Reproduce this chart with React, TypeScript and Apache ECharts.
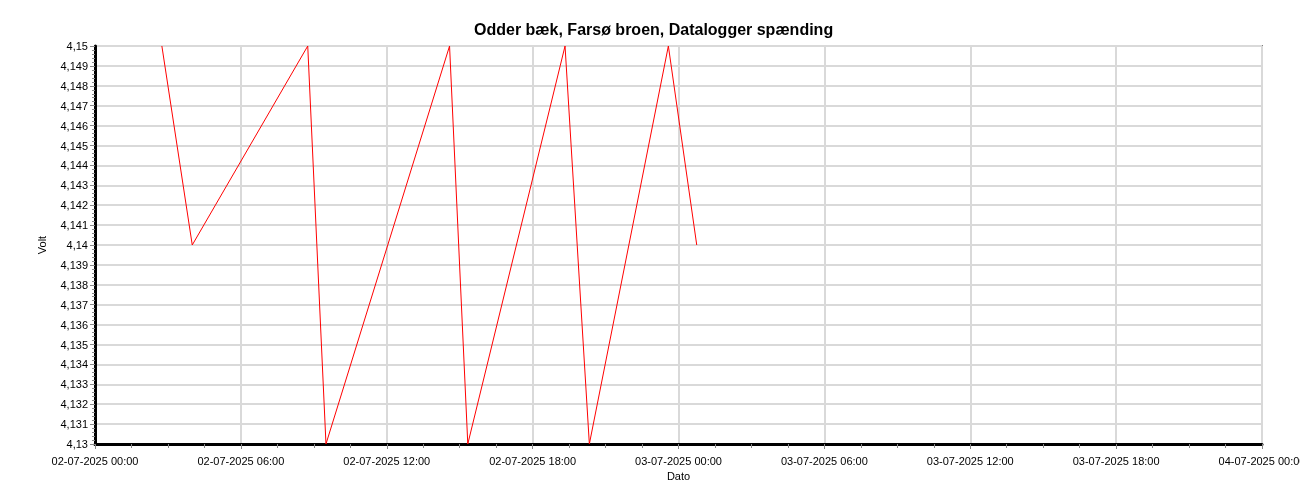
import React, { useEffect, useRef } from "react";
import * as echarts from "echarts";

const titleText = "Odder bæk, Farsø broen, Datalogger spænding";
const yAxisName = "Volt";
const xAxisName = "Dato";

// timestamps (dd-mm-yyyy HH:mm) and voltage readings
const times = [
  "02-07-2025 02:45",
  "02-07-2025 04:00",
  "02-07-2025 08:45",
  "02-07-2025 09:30",
  "02-07-2025 14:35",
  "02-07-2025 15:20",
  "02-07-2025 19:20",
  "02-07-2025 20:20",
  "02-07-2025 23:35",
  "03-07-2025 00:45",
];
const volts = [4.15, 4.14, 4.15, 4.13, 4.15, 4.13, 4.15, 4.13, 4.15, 4.14];

const startDay = 2;

function toHours(s: string): number {
  const [d, t] = s.split(" ");
  const day = parseInt(d.split("-")[0], 10);
  const [hh, mm] = t.split(":").map((v) => parseInt(v, 10));
  return (day - startDay) * 24 + hh + mm / 60;
}

function pad(n: number) {
  return n < 10 ? "0" + n : "" + n;
}

function fmtX(v: number): string {
  const day = startDay + Math.floor(v / 24 + 1e-9);
  const h = Math.round(v - (day - startDay) * 24);
  return pad(day) + "-07-2025 " + pad(h) + ":00";
}

function fmtY(v: number): string {
  let s = v.toFixed(3);
  s = s.replace(/0+$/, "").replace(/\.$/, "");
  return s.replace(".", ",");
}

export default function App() {
  const ref = useRef<HTMLDivElement>(null);
  useEffect(() => {
    if (!ref.current) return;
    const chart = echarts.init(ref.current, undefined, { renderer: "svg" });
    const data = times.map((t, i) => [toHours(t), volts[i]]);
    const font = "Liberation Sans, Arial, sans-serif";
    chart.setOption({
      animation: false,
      textStyle: { fontFamily: font },
      title: {
        text: titleText,
        left: 469,
        top: 16,
        textStyle: { fontSize: 16, fontWeight: "bold", color: "#000", fontFamily: font },
      },
      grid: {
        left: 95,
        right: 38,
        top: 46,
        bottom: 56,
        outerBoundsMode: "none",
        containLabel: false,
        show: true,
        borderColor: "#808080",
        borderWidth: 2,
        backgroundColor: "#fff",
      },
      xAxis: {
        type: "value",
        min: 0,
        max: 48,
        interval: 6,
        name: xAxisName,
        nameLocation: "middle",
        nameGap: 23,
        nameTextStyle: { fontSize: 11, color: "#000", fontFamily: font },
        axisLine: { show: true, onZero: false, lineStyle: { color: "#000", width: 3 } },
        axisTick: { show: true, length: 5, lineStyle: { color: "#888", width: 1 } },
        minorTick: { show: true, splitNumber: 4, length: 4, lineStyle: { color: "#888", width: 1 } },
        axisLabel: { fontSize: 11, color: "#000", margin: 11, formatter: fmtX, fontFamily: font },
        splitLine: { show: true, lineStyle: { color: "#d9d9d9", width: 2 } },
      },
      yAxis: {
        type: "value",
        min: 4.13,
        max: 4.15,
        interval: 0.001,
        name: yAxisName,
        nameLocation: "middle",
        nameGap: 48,
        nameRotate: 90,
        nameTextStyle: { fontSize: 11, color: "#000", fontFamily: font },
        axisLine: { show: true, onZero: false, lineStyle: { color: "#000", width: 3 } },
        axisTick: { show: true, length: 5, lineStyle: { color: "#888", width: 1 } },
        minorTick: { show: true, splitNumber: 5, length: 3, lineStyle: { color: "#888", width: 1 } },
        axisLabel: { fontSize: 11, color: "#000", margin: 7, formatter: fmtY, fontFamily: font },
        splitLine: { show: true, lineStyle: { color: "#d9d9d9", width: 2 } },
      },
      series: [
        {
          type: "line",
          data,
          showSymbol: false,
          symbol: "none",
          lineStyle: { color: "#ff0000", width: 1 },
          itemStyle: { color: "#ff0000" },
        },
      ],
    });
    return () => chart.dispose();
  }, []);
  return (
    <div
      ref={ref}
      style={{ position: "fixed", left: 0, top: 0, width: 1300, height: 500 }}
    />
  );
}
